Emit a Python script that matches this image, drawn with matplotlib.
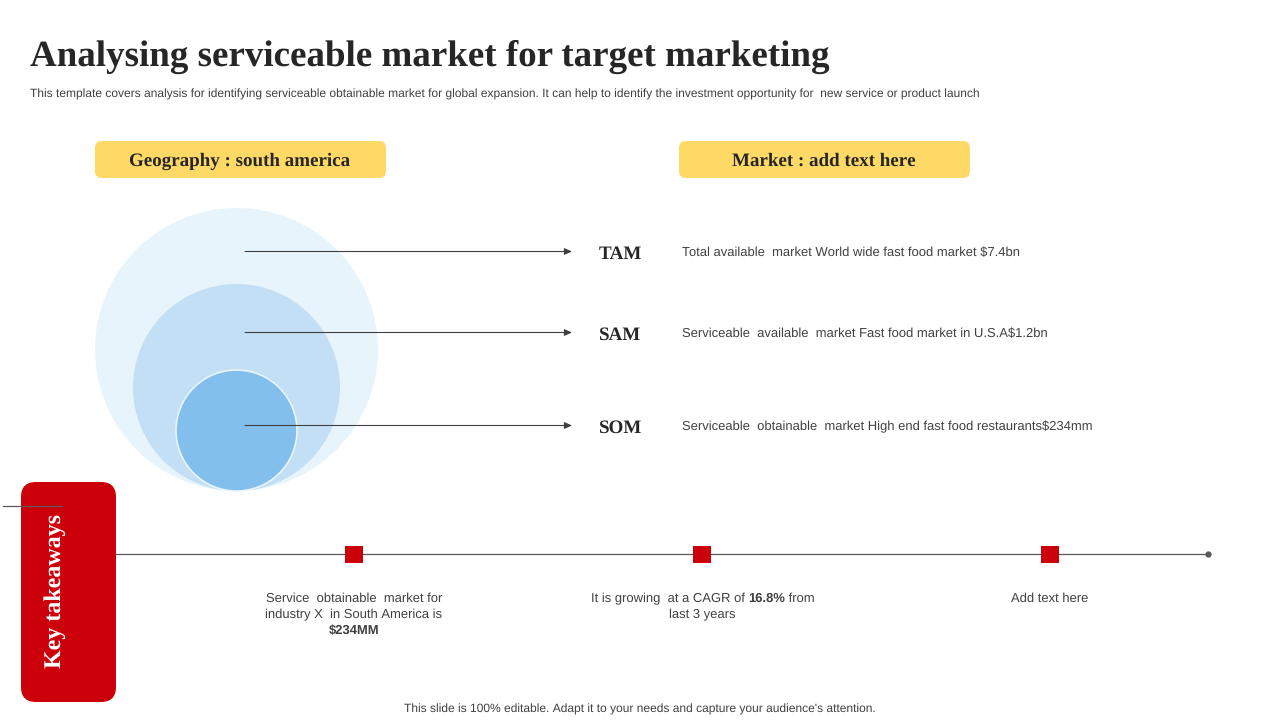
import matplotlib
matplotlib.use("Agg")
import matplotlib.pyplot as plt
from matplotlib.patches import Circle, FancyBboxPatch, Rectangle

plt.rcParams["text.hinting"] = "no_hinting"
plt.rcParams["text.hinting_factor"] = 1

SERIF = "Liberation Serif"
SANS = "Liberation Sans"

title = "Analysing serviceable market for target marketing"
subtitle = ("This template covers analysis for identifying serviceable obtainable market for global "
            "expansion. It can help to identify the investment opportunity for  new service or product launch")
footer = "This slide is 100% editable. Adapt it to your needs and capture your audience's attention."
header_labels = ["Geography : south america", "Market : add text here"]
levels = ["TAM", "SAM", "SOM"]
level_texts = ["Total available  market World wide fast food market $7.4bn",
               "Serviceable  available  market Fast food market in U.S.A$1.2bn",
               "Serviceable  obtainable  market High end fast food restaurants$234mm"]
first_takeaway = ["Service  obtainable  market for", "industry X  in South America is"]
first_value = "$234MM"
second_takeaway = ["It is growing  at a CAGR of ", "16.8%", " from", "last 3 years"]
third_takeaway = "Add text here"

fig = plt.figure(figsize=(12.8, 7.2), dpi=100)
ax = fig.add_axes([0, 0, 1, 1])
ax.set_xlim(0, 1280)
ax.set_ylim(720, 0)
ax.axis("off")

DARK = "#262626"
GREY = "#404040"
RED = "#cc000a"
YELLOW = "#ffd966"

# title block
ax.text(30, 56.5, title, family=SERIF, weight="bold", fontsize=26.65, color=DARK, va="center", ha="left")
ax.text(30, 94, subtitle, family=SANS, fontsize=8.66, color=GREY, va="center", ha="left")


def rounded(x, y, w, h, r, color, z=2):
    ax.add_patch(FancyBboxPatch((x + r, y + r), w - 2 * r, h - 2 * r,
                                boxstyle=f"round,pad={r},rounding_size={r}",
                                fc=color, ec="none", zorder=z))


def body(x, y, txt, **kw):
    kw.setdefault("ha", "center")
    return ax.text(x, y, txt, family=SANS, fontsize=9.35, color=GREY, va="baseline", **kw)


# yellow headers
for x0, label in zip([95, 679], header_labels):
    rounded(x0, 141, 291, 37, 7, YELLOW)
    ax.text(x0 + 145, 159.5, label, family=SERIF, weight="bold", fontsize=13.4,
            color=DARK, ha="center", va="center_baseline", zorder=3)

# nested circles
ax.add_patch(Circle((236.5, 349.5), 141.5, fc="#e8f4fc", ec="none", zorder=2))
ax.add_patch(Circle((236.5, 387.5), 103.5, fc="#c2dff5", ec="none", zorder=3))
ax.add_patch(Circle((236.5, 430.5), 60.5, fc="#82bfec", ec="#eaf5fd", lw=1.2, zorder=4))

# arrows and labels
for y, name, txt in zip([251.5, 332.5, 425.5], levels, level_texts):
    ax.annotate("", xy=(572, y), xytext=(245, y), zorder=5,
                arrowprops=dict(arrowstyle="-|>,head_length=0.45,head_width=0.2",
                                color="#404040", lw=0.8, shrinkA=0, shrinkB=0))
    ax.text(620.5, y + 0.5, name, family=SERIF, weight="bold", fontsize=14, color=DARK,
            ha="center", va="center_baseline")
    body(682, y + 4.5, txt, ha="left")

# key takeaways panel
rounded(21, 482, 95, 220, 15, RED, z=3)
ax.text(52, 591.5, "Key takeaways", family=SERIF, weight="bold", fontsize=17, color="white",
        rotation=90, ha="center", va="center_baseline", rotation_mode="anchor", zorder=5)
ax.plot([3, 62], [506, 506], color="#595959", lw=0.9, zorder=4)

# timeline
ax.plot([116, 1207], [553.8, 553.8], color="#595959", lw=0.9, zorder=2)
ax.plot([1207.5], [553.8], "o", color="#595959", ms=3.5, zorder=2)
for x0 in [345, 693, 1041]:
    ax.add_patch(Rectangle((x0, 546), 18, 17, fc=RED, ec="none", zorder=3))

# text under the timeline
body(354, 602, first_takeaway[0])
body(354, 618, first_takeaway[1])
body(354, 634, first_value, weight="bold")

renderer = fig.canvas.get_renderer()
x_pos = 591
for part, w in zip(second_takeaway[:3], ["normal", "bold", "normal"]):
    t = body(x_pos, 602, part, ha="left", weight=w)
    x_pos = t.get_window_extent(renderer).x1
body(702.5, 618, second_takeaway[3])

body(1049.5, 602, third_takeaway)

ax.text(640, 709, footer, family=SANS, fontsize=8.66, color=GREY, ha="center", va="center")

fig.savefig("out.png", dpi=100)
